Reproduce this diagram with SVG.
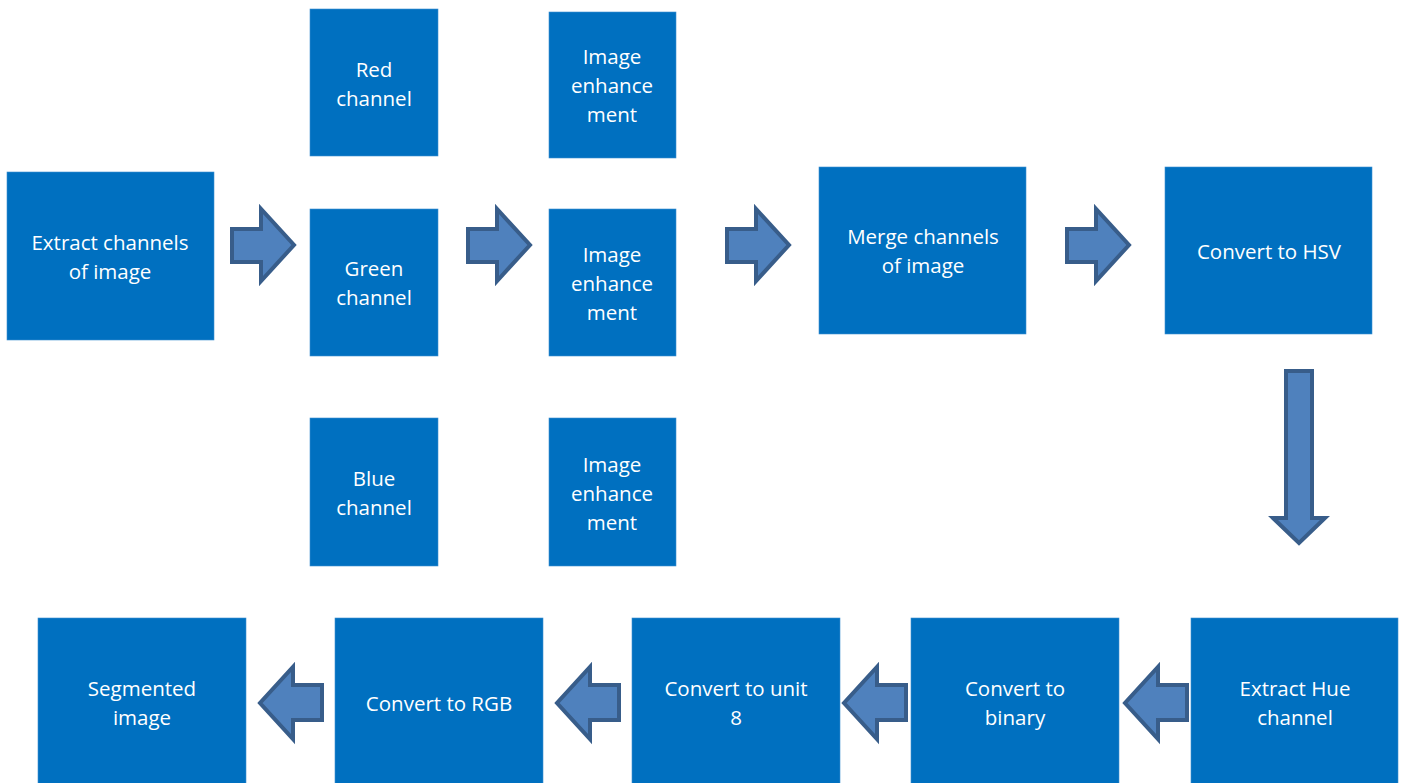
<svg xmlns="http://www.w3.org/2000/svg" width="1403" height="783" viewBox="0 0 1403 783">
<defs>
<style>
.box{fill:#0070c0;stroke:#3d8fd0;stroke-width:0.6}
.lbl{font-family:"Open Sans","Noto Sans",sans-serif;font-size:20.5px;fill:#ffffff;text-anchor:middle}
.arr{fill:#4f81bd;stroke:#385d8a;stroke-width:4;stroke-linejoin:miter}
</style>
</defs>
<rect width="1403" height="783" fill="#ffffff"/>
<g id="connectors">
<polygon class="arr" points="232,229 261,229 261,209 294,245 261,281 261,262 232,262"/>
<polygon class="arr" points="468,229 497,229 497,209 530,245 497,281 497,262 468,262"/>
<polygon class="arr" points="727,229 756,229 756,209 789,245 756,281 756,262 727,262"/>
<polygon class="arr" points="1067,229 1096,229 1096,209 1129,245 1096,281 1096,262 1067,262"/>
<polygon class="arr" points="1286,371 1312,371 1312,518 1325,518 1299,543 1273,518 1286,518"/>
<polygon class="arr" points="1187,685 1158,685 1158,667 1125,703 1158,739 1158,720 1187,720"/>
<polygon class="arr" points="906,685 877,685 877,667 844,703 877,739 877,720 906,720"/>
<polygon class="arr" points="619,685 590,685 590,667 557,703 590,739 590,720 619,720"/>
<polygon class="arr" points="322,685 293,685 293,667 260,703 293,739 293,720 322,720"/>
</g>
<g id="extract">
<rect class="box" x="7" y="172" width="207" height="168"/>
<text class="lbl" x="110" y="250">Extract channels</text>
<text class="lbl" x="110" y="279">of image</text>
</g>
<g id="red">
<rect class="box" x="310" y="9" width="128" height="147"/>
<text class="lbl" x="374" y="77">Red</text>
<text class="lbl" x="374" y="106">channel</text>
</g>
<g id="green">
<rect class="box" x="310" y="209" width="128" height="147"/>
<text class="lbl" x="374" y="276">Green</text>
<text class="lbl" x="374" y="305">channel</text>
</g>
<g id="blue">
<rect class="box" x="310" y="418" width="128" height="148"/>
<text class="lbl" x="374" y="486">Blue</text>
<text class="lbl" x="374" y="515">channel</text>
</g>
<g id="enh1">
<rect class="box" x="549" y="12" width="127" height="146"/>
<text class="lbl" x="612" y="64">Image</text>
<text class="lbl" x="612" y="93">enhance</text>
<text class="lbl" x="612" y="122">ment</text>
</g>
<g id="enh2">
<rect class="box" x="549" y="209" width="127" height="147"/>
<text class="lbl" x="612" y="262">Image</text>
<text class="lbl" x="612" y="291">enhance</text>
<text class="lbl" x="612" y="320">ment</text>
</g>
<g id="enh3">
<rect class="box" x="549" y="418" width="127" height="148"/>
<text class="lbl" x="612" y="472">Image</text>
<text class="lbl" x="612" y="501">enhance</text>
<text class="lbl" x="612" y="530">ment</text>
</g>
<g id="merge">
<rect class="box" x="819" y="167" width="207" height="167"/>
<text class="lbl" x="923" y="244">Merge channels</text>
<text class="lbl" x="923" y="273">of image</text>
</g>
<g id="hsv">
<rect class="box" x="1165" y="167" width="207" height="167"/>
<text class="lbl" x="1269" y="259">Convert to HSV</text>
</g>
<g id="hue">
<rect class="box" x="1191" y="618" width="207" height="170"/>
<text class="lbl" x="1295" y="696">Extract Hue</text>
<text class="lbl" x="1295" y="725">channel</text>
</g>
<g id="binary">
<rect class="box" x="911" y="618" width="208" height="170"/>
<text class="lbl" x="1015" y="696">Convert to</text>
<text class="lbl" x="1015" y="725">binary</text>
</g>
<g id="uint8">
<rect class="box" x="632" y="618" width="208" height="170"/>
<text class="lbl" x="736" y="696">Convert to unit</text>
<text class="lbl" x="736" y="725">8</text>
</g>
<g id="rgb">
<rect class="box" x="335" y="618" width="208" height="170"/>
<text class="lbl" x="439" y="711">Convert to RGB</text>
</g>
<g id="segmented">
<rect class="box" x="38" y="618" width="208" height="170"/>
<text class="lbl" x="142" y="696">Segmented</text>
<text class="lbl" x="142" y="725">image</text>
</g>
</svg>
